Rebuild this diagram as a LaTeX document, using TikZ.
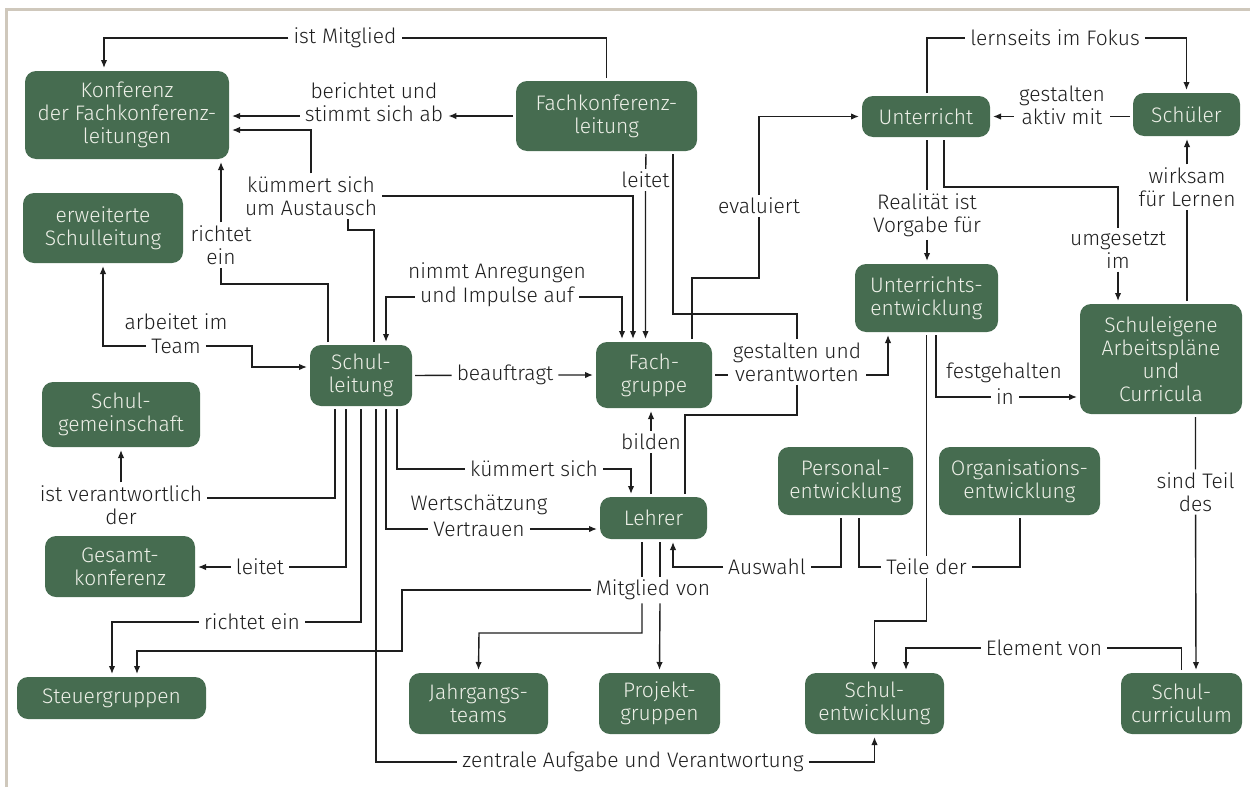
\documentclass[tikz,border=0pt]{standalone}
\usepackage{fontspec}
\setmainfont{Fira Sans Light}
\usetikzlibrary{arrows.meta}
\definecolor{boxgreen}{RGB}{70,108,80}
\definecolor{boxtext}{RGB}{238,240,232}
\definecolor{framegray}{RGB}{207,200,188}
\definecolor{ink}{RGB}{30,30,30}
\tikzset{topic/.style={fill=boxgreen, text=boxtext, rounded corners=11pt,
   align=center, inner sep=2pt, outer sep=3pt},
 rel/.style={text=ink, align=center, inner xsep=5pt, inner ysep=3pt},
 wh/.style 2 args={minimum width=#1pt, minimum height=#2pt},
 conn/.style={draw=ink, line width=1.4pt},
 }

\begin{document}
\begin{tikzpicture}[x=1pt, y=-1pt, >={Latex[length=8pt,width=6.5pt]},
    font=\fontsize{21}{23}\selectfont]
    \useasboundingbox (0,0) rectangle (1250,787);
    \draw[framegray, line width=3pt] (6,787) -- (6,9) -- (1250,9);

    % boxes
    \node[topic, wh={204}{88}] (konf) at (127,115) {Konferenz\\der Fachkonferenz-\\leitungen};
    \node[topic, wh={160}{70}] (erw) at (103,228) {erweiterte\\Schulleitung};
    \node[topic, wh={181}{70}] (fkl) at (606.5,116) {Fachkonferenz-\\leitung};
    \node[topic, wh={128}{41}] (unt) at (926,116.5) {Unterricht};
    \node[topic, wh={107}{43}] (schueler) at (1186.5,114.5) {Schüler};
    \node[topic, wh={143}{68}] (uew) at (926.5,298) {Unterrichts-\\entwicklung};
    \node[topic, wh={162}{110}] (sap) at (1161,359) {Schuleigene\\Arbeitspläne\\und\\Curricula};
    \node[topic, wh={102}{61}] (sl) at (361,375.5) {Schul-\\leitung};
    \node[topic, wh={116}{66}] (fg) at (654,375) {Fach-\\gruppe};
    \node[topic, wh={158}{65}] (sg) at (121,414.5) {Schul-\\gemeinschaft};
    \node[topic, wh={107}{42}] (lehrer) at (653.5,518) {Lehrer};
    \node[topic, wh={135}{68}] (pe) at (845.5,481) {Personal-\\entwicklung};
    \node[topic, wh={161}{68}] (oe) at (1019.5,481) {Organisations-\\entwicklung};
    \node[topic, wh={150}{61}] (gk) at (120,566.5) {Gesamt-\\konferenz};
    \node[topic, wh={189}{42}] (steuer) at (111.5,698) {Steuergruppen};
    \node[topic, wh={139}{61}] (jt) at (478.5,703.5) {Jahrgangs-\\teams};
    \node[topic, wh={121}{61}] (pg) at (659.5,703.5) {Projekt-\\gruppen};
    \node[topic, wh={139}{61}] (se) at (874.5,703.5) {Schul-\\entwicklung};
    \node[topic, wh={121}{61}] (sc) at (1181.5,703.5) {Schul-\\curriculum};

    % relation labels
    \node[rel] (mitglied) at (345,38) {ist Mitglied};
    \node[rel] (berichtet) at (374,102) {berichtet und\\stimmt sich ab};
    \node[rel] (austausch) at (311,196) {kümmert sich\\um Austausch};
    \node[rel] (richtetA) at (221,245) {richtet\\ein};
    \node[rel] (leitetA) at (645.5,180) {leitet};
    \node[rel] (evaluiert) at (759,206) {evaluiert};
    \node[rel] (lernseits) at (1055,38) {lernseits im Fokus};
    \node[rel] (aktiv) at (1062,105) {gestalten\\aktiv mit};
    \node[rel] (realitaet) at (927,215) {Realität ist\\Vorgabe für};
    \node[rel] (umgesetzt) at (1118,250) {umgesetzt\\im};
    \node[rel] (wirksam) at (1187,187) {wirksam\\für Lernen};
    \node[rel] (arbeitet) at (176,322) {arbeitet im};
    \node[rel] (team) at (176,346) {Team};
    \node[rel] (anregungen) at (497,273) {nimmt Anregungen};
    \node[rel] (impulse) at (497,297) {und Impulse auf};
    \node[rel] (beauftragt) at (505,375) {beauftragt};
    \node[rel] (gestalten) at (797,362) {gestalten und\\verantworten};
    \node[rel] (festgehalten) at (1004,373) {festgehalten};
    \node[rel] (festin) at (1005,397) {in};
    \node[rel] (bilden) at (651,442) {bilden};
    \node[rel] (kuemmert) at (534,469) {kümmert sich};
    \node[rel] (verantwortlich) at (121,505) {ist verantwortlich\\der};
    \node[rel] (wertschaetzung) at (479,505) {Wertschätzung};
    \node[rel] (vertrauen) at (479,529) {Vertrauen};
    \node[rel] (sindteil) at (1195.5,492) {sind Teil\\des};
    \node[rel] (leitetB) at (260,567) {leitet};
    \node[rel] (auswahl) at (767,567) {Auswahl};
    \node[rel] (teile) at (926.5,567) {Teile der};
    \node[rel] (mitgliedvon) at (653,590) {Mitglied von};
    \node[rel] (richtetB) at (252,622) {richtet ein};
    \node[rel] (element) at (1044,648) {Element von};
    \node[rel] (zentral) at (633,762) {zentrale Aufgabe und Verantwortung};

    % connectors
    \draw[conn, ->] (fkl.north) |- (mitglied) -| ([xshift=-23pt]konf.north);
    \draw[conn, ->] (fkl.west) -- (fkl.west -| berichtet.east);
    \draw[conn, ->] (berichtet.west |- fkl.west) -- (konf.east |- fkl.west);
    \draw[conn] ([xshift=13pt]sl.north) -- ++(0,-112) -| ([xshift=37pt]austausch.south);
    \draw[conn, ->] (austausch) |- (konf.east |- 0,130);
    \draw[conn, ->] (austausch) -| ([xshift=-21pt]fg.north);
    \draw[conn, ->] ([xshift=-33pt]sl.north) -- ++(0,-58) -| (richtetA) -- ([xshift=94pt]konf.south);
    \draw[conn, ->] ([xshift=39.5pt]fkl.south) -- (leitetA) -- ([xshift=-8.5pt]fg.north);
    \draw[conn, ->] (impulse) -| ([xshift=25pt]sl.north);
    \draw[conn, ->] (impulse) -| ([xshift=-32pt]fg.north);
    \draw[conn] ([xshift=66.5pt]fkl.south) -- ++(0,160) -| (gestalten);
    \draw[conn] (fg.east) -- (gestalten.west |- fg.east);
    \draw[conn, ->] (gestalten.east |- fg.east) -| ([xshift=-38.5pt]uew.south);
    \draw[conn] (gestalten) |- (685,415) -- ([xshift=31.5pt]lehrer.north);
    \draw[conn, ->] ([xshift=38pt]fg.north) |- (759,278) -- (evaluiert) |- (unt.west);
    \draw[conn, ->] (sl.east) -- (beauftragt) -- (fg.west);
    \draw[conn, ->] ([xshift=-2.5pt]lehrer.north) -- (bilden) -- ([xshift=-3pt]fg.south);
    \draw[conn, ->] ([xshift=36pt]sl.south) |- (kuemmert) -| ([xshift=-22.5pt]lehrer.north);
    \draw[conn] ([xshift=25pt]sl.south) |- (vertrauen);
    \draw[conn, ->] (vertrauen) -- (lehrer.west |- vertrauen);
    \draw[conn] ([xshift=-26pt]sl.south) |- (verantwortlich.east |- 0,498);
    \draw[conn, ->] (verantwortlich) -- (sg.south);
    \draw[conn, ->] ([xshift=-15pt]sl.south) |- (leitetB) -- (gk.east |- leitetB);
    \draw[conn, ->] (sl.south) |- (richtetB) -| ([xshift=0.5pt]steuer.north);
    \draw[conn, ->] ([xshift=15pt]sl.south) |- (zentral) -| (se.south);
    \draw[conn] ([xshift=-11.5pt]lehrer.south) -- ([xshift=-11pt]mitgliedvon.north);
    \draw[conn] ([xshift=6.5pt]lehrer.south) -- ([xshift=7pt]mitgliedvon.north);
    \draw[conn, ->] ([xshift=-11pt]mitgliedvon.south) |- (479,633) -- (jt.north);
    \draw[conn, ->] ([xshift=7pt]mitgliedvon.south) -- (pg.north);
    \draw[conn, ->] (mitgliedvon) -| (402,651) -| ([xshift=25.5pt]steuer.north);
    \draw[conn, ->] ([xshift=-4.5pt]pe.south) |- (auswahl) -| ([xshift=19.5pt]lehrer.south);
    \draw[conn] ([xshift=13.5pt]pe.south) |- (teile);
    \draw[conn] ([xshift=0.5pt]oe.south) |- (teile);
    \draw[conn] (uew.south) -- (teile);
    \draw[conn, ->] (teile) |- (se.north |- 0,621) -- (se.north);
    \draw[conn, ->] (sc.north) |- (element) -| ([xshift=31.5pt]se.north);
    \draw[conn, ->] ([xshift=34.5pt]sap.south) -- (sindteil) -- ([xshift=14.5pt]sc.north);
    \draw[conn] ([xshift=9.5pt]uew.south) |- (festin);
    \draw[conn, ->] (festin) -- (sap.west |- festin);
    \draw[conn, ->] ([xshift=1pt]unt.north) |- (lernseits) -| (schueler.north);
    \draw[conn] (schueler.west |- unt.west) -- (aktiv.east |- unt.west);
    \draw[conn, ->] (aktiv.west |- unt.west) -- (unt.east);
    \draw[conn, ->] ([xshift=1pt]unt.south) -- (realitaet) -- ([xshift=0.5pt]uew.north);
    \draw[conn, ->] ([xshift=18pt]unt.south) -- ++(0,47) -| (umgesetzt) -- ([xshift=-43pt]sap.north);
    \draw[conn, ->] ([xshift=26pt]sap.north) -- (wirksam) -- ([xshift=0.5pt]schueler.south);
    \draw[conn, ->] (team) -| (erw.south);
    \draw[conn, ->] (team) -- (252,346) |- (sl.west |- 0,367);
\end{tikzpicture}
\end{document}
